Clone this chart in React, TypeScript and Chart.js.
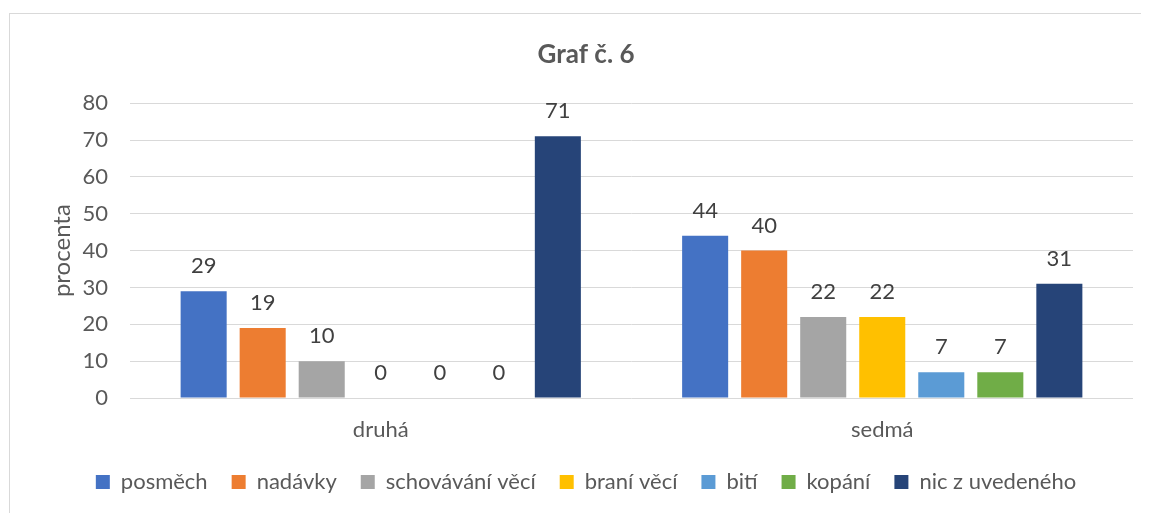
import React, { useEffect, useRef } from "react";
import { Chart, registerables } from "chart.js";

Chart.register(...registerables);

const categories = ["druhá", "sedmá"];
const seriesNames = ["posměch", "nadávky", "schovávání věcí", "braní věcí", "bití", "kopání", "nic z uvedeného"];
const posmech = [29, 44];
const nadavky = [19, 40];
const schovavani = [10, 22];
const brani = [0, 22];
const biti = [0, 7];
const kopani = [0, 7];
const nic = [71, 31];
const seriesColors = ["#4472C4", "#ED7D31", "#A5A5A5", "#FFC000", "#5B9BD5", "#70AD47", "#264478"];
const yTicks = [0, 10, 20, 30, 40, 50, 60, 70, 80];

const FONT = "Lato, 'Open Sans', sans-serif";
const TEXT = "#595959";

const borderPlugin = {
  id: "frame",
  beforeDraw(chart: any) {
    const ctx = chart.ctx;
    ctx.save();
    ctx.fillStyle = "#ffffff";
    ctx.fillRect(0, 0, chart.width, chart.height);
    ctx.strokeStyle = "#d9d9d9";
    ctx.lineWidth = 1;
    ctx.strokeRect(1.5, 5.5, chart.width + 50, chart.height + 50);
    ctx.restore();
  },
};

const labelPlugin = {
  id: "valueLabels",
  afterDatasetsDraw(chart: any) {
    const ctx = chart.ctx;
    ctx.save();
    ctx.font = `22px ${FONT}`;
    ctx.fillStyle = "#404040";
    ctx.textAlign = "center";
    ctx.textBaseline = "middle";
    chart.data.datasets.forEach((ds: any, i: number) => {
      const meta = chart.getDatasetMeta(i);
      meta.data.forEach((bar: any, j: number) => {
        ctx.fillText(String(ds.data[j]), bar.x, bar.y - 25);
      });
    });
    ctx.restore();
  },
};

export default function App() {
  const ref = useRef<HTMLCanvasElement>(null);
  useEffect(() => {
    const values = [posmech, nadavky, schovavani, brani, biti, kopani, nic];
    const chart = new Chart(ref.current!, {
      type: "bar",
      data: {
        labels: categories,
        datasets: seriesNames.map((name, i) => ({
          label: name,
          data: values[i],
          backgroundColor: seriesColors[i],
          categoryPercentage: 0.824,
          barPercentage: 0.78,
        })),
      },
      options: {
        responsive: false,
        animation: false,
        layout: { padding: { left: 31, right: 16, top: 0, bottom: 10 } },
        plugins: {
          title: {
            display: true,
            text: "Graf č. 6",
            color: TEXT,
            font: { family: FONT, size: 26, weight: "bold" },
            padding: { top: 31, bottom: 33 },
          },
          legend: {
            position: "bottom",
            labels: {
              color: TEXT,
              font: { family: FONT, size: 22 },
              boxWidth: 14,
              boxHeight: 14,
              padding: 24,
            },
          },
          tooltip: { enabled: false },
        },
        scales: {
          x: {
            afterFit(scale: any) {
              scale.height = 49;
            },
            grid: { display: false, drawTicks: false },
            border: { display: false },
            ticks: { color: TEXT, font: { family: FONT, size: 22 }, padding: 19 },
          },
          y: {
            min: 0,
            max: 80,
            afterFit(scale: any) {
              scale.width = 91;
            },
            afterBuildTicks(scale: any) {
              scale.ticks = yTicks.map((v) => ({ value: v }));
            },
            grid: { color: "#d9d9d9", drawTicks: false },
            border: { display: false },
            ticks: { color: TEXT, font: { family: FONT, size: 22 }, padding: 22 },
            title: {
              display: true,
              text: "procenta",
              color: TEXT,
              font: { family: FONT, size: 24 },
              padding: { top: 9, bottom: 0 },
            },
          },
        },
      },
      plugins: [borderPlugin, labelPlugin],
    } as any);
    return () => chart.destroy();
  }, []);
  return <canvas ref={ref} width={1141} height={505} style={{ display: "block" }} />;
}
